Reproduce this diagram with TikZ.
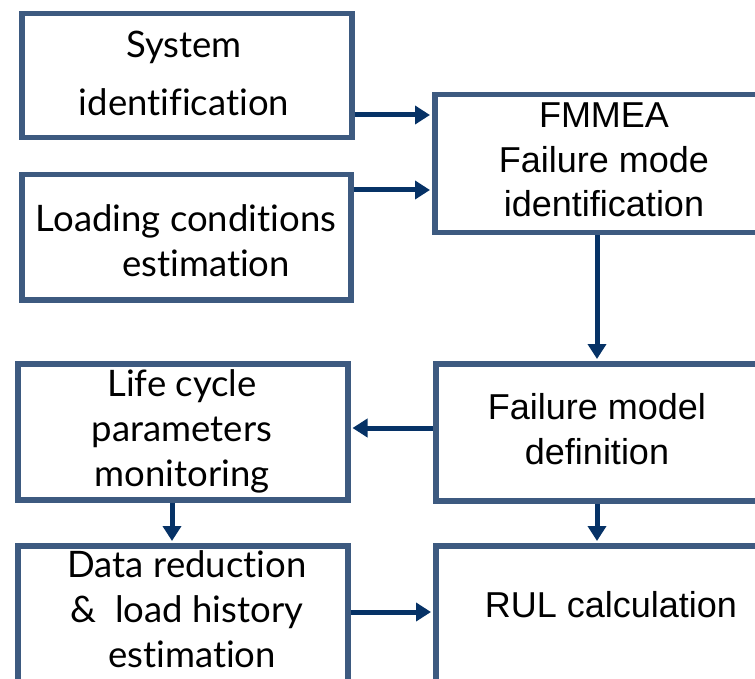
\documentclass[tikz,border=0pt]{standalone}
\usepackage{fontspec}
\setmainfont{Liberation Sans}
\newfontfamily\leftfont[Ligatures={NoCommon}]{Lato}
\usetikzlibrary{arrows.meta}
\definecolor{boxc}{RGB}{61,90,128}
\definecolor{arrc}{RGB}{6,50,102}
\begin{document}
\begin{tikzpicture}[x=1pt,y=-1pt,
  box/.style={draw=boxc, line width=5.5pt, fill=white, inner sep=0pt, anchor=north west},
  ltxt/.style={font=\leftfont\fontsize{36.5}{45}\selectfont, align=center, inner sep=0pt},
  rtxt/.style={font=\fontsize{36}{44.5}\selectfont, align=center, inner sep=0pt},
  arr/.style={draw=arrc, line width=5pt, -{Triangle[length=15pt,width=18pt]}, shorten >=2pt}]
\useasboundingbox (0,0) rectangle (755,679);
\clip (0,0) rectangle (755,679);

% boxes
\node[box, minimum width=330pt, minimum height=124pt] (sys) at (19,11) {};
\node[box, minimum width=329pt, minimum height=125pt] (load) at (19,172) {};
\node[box, minimum width=360pt, minimum height=138pt] (fm) at (432,92) {};
\node[box, minimum width=360pt, minimum height=137pt] (fmod) at (433,361) {};
\node[box, minimum width=330pt, minimum height=136pt] (lcp) at (15,361) {};
\node[box, minimum width=330pt, minimum height=200pt] (data) at (15,543) {};
\node[box, minimum width=360pt, minimum height=200pt] (rul) at (433,543) {};

% texts
\node[ltxt, font=\leftfont\fontsize{36.5}{58}\selectfont] (tsys) at (184,73.5) {System\\identification};
\node[ltxt] (tload) at (186,240.5) {Loading conditions\\\hspace*{40pt}estimation};
\node[ltxt] (tlcp) at (182,431) {Life cycle\\parameters\\monitoring};
\node[ltxt] (tdata) at (187,609.5) {Data reduction\\\&\ \ load history\\\hspace*{10pt}estimation};
\node[rtxt] (tfm) at (604,160) {FMMEA\\Failure mode\\identification};
\node[rtxt] (tfmod) at (597,429) {Failure model\\definition};
\node[rtxt] (trul) at (611,605) {RUL calculation};

% connectors
\coordinate (y1) at (0,115);
\coordinate (y2) at (0,190);
\coordinate (y3) at (0,428);
\coordinate (y4) at (0,612);
\coordinate (x1) at (597,0);
\coordinate (x2) at (172,0);
\draw[arr] (sys.east |- y1) -- (fm.west |- y1);
\draw[arr] (load.east |- y2) -- (fm.west |- y2);
\draw[arr] (fm.south -| x1) -- (fmod.north -| x1);
\draw[arr] (fmod.west |- y3) -- (lcp.east |- y3);
\draw[arr] (lcp.south -| x2) -- (data.north -| x2);
\draw[arr] (fmod.south -| x1) -- (rul.north -| x1);
\draw[arr] (data.east |- y4) -- (rul.west |- y4);
\end{tikzpicture}
\end{document}
